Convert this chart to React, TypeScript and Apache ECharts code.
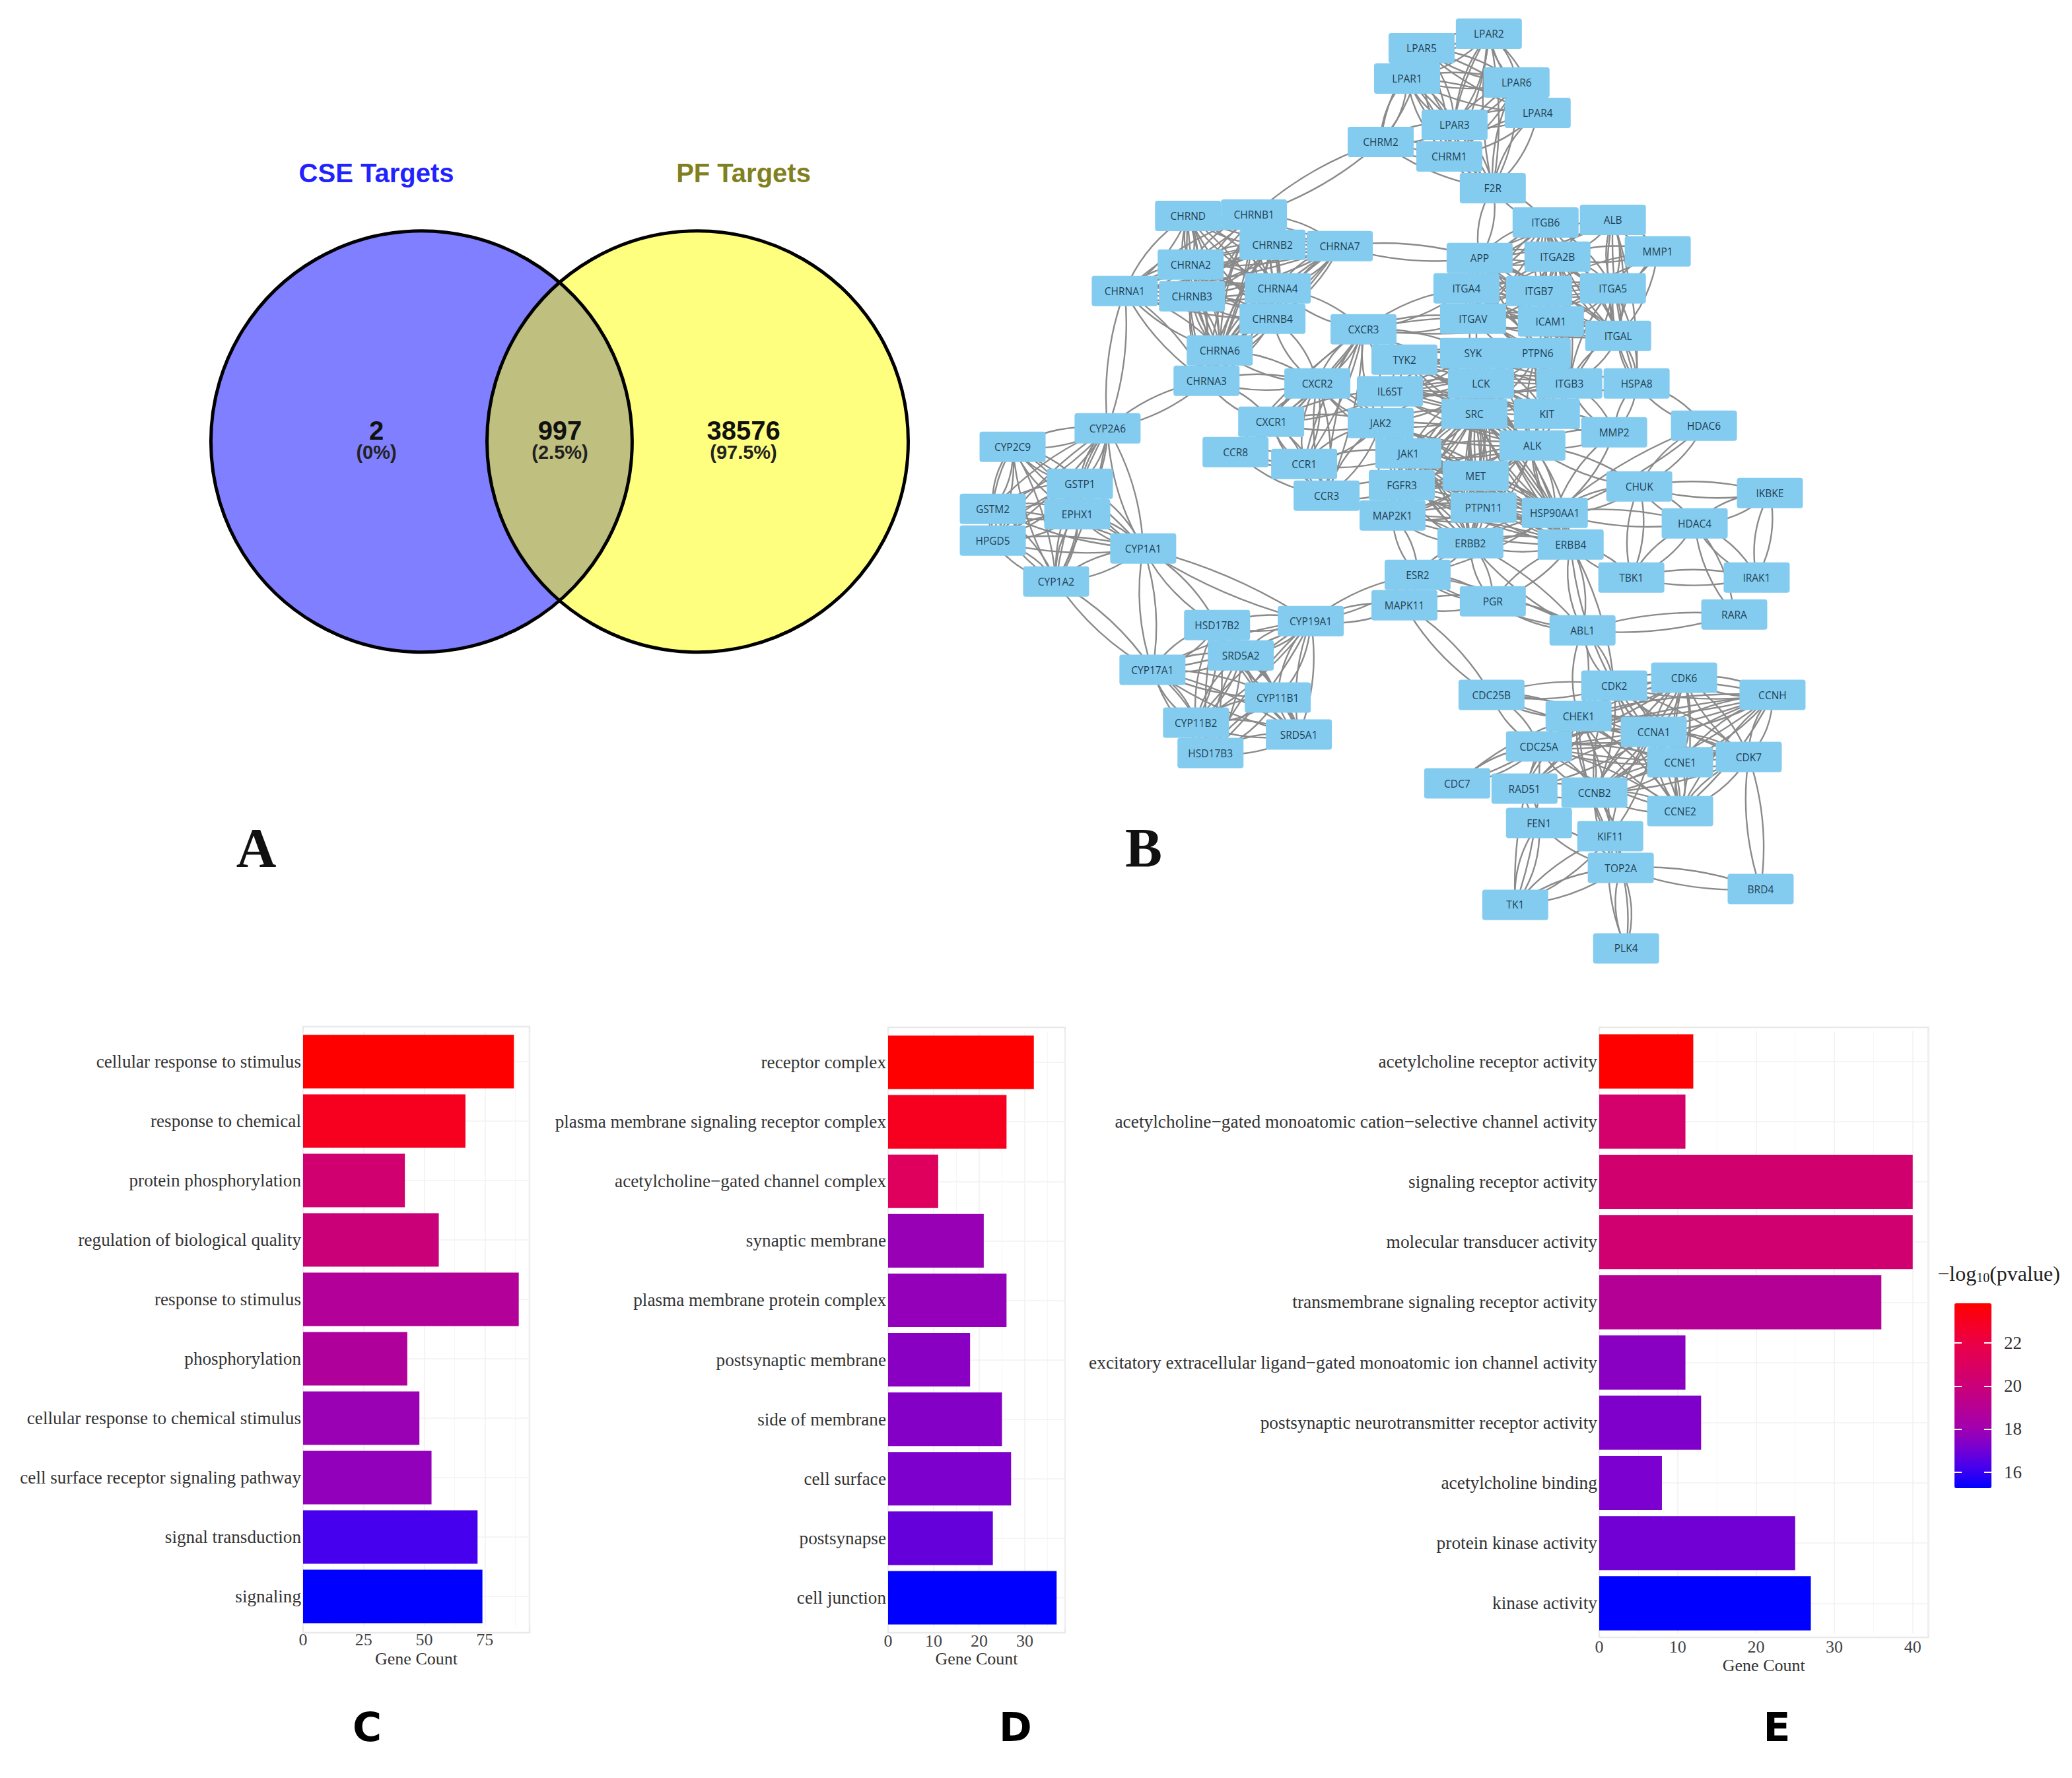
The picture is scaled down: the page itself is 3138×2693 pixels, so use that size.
import React, { useEffect, useRef } from "react";
import * as echarts from "echarts";

const WIDTH = 3138;
const HEIGHT = 2693;

// Venn
const vennTitles = ["CSE Targets", "PF Targets"];
const vennCounts = ["2", "997", "38576"];
const vennPercents = ["(0%)", "(2.5%)", "(97.5%)"];
const vennCircles = [[318, 334], [527.25, 334]];

// Network nodes: gene, x, y (half-scale picture units)
const geneNodes: [string, number, number][] = [
  ["LPAR5", 1076, 36], ["LPAR2", 1127, 25], ["LPAR1", 1065, 59], ["LPAR6", 1148, 62], ["LPAR4", 1164, 85],
  ["LPAR3", 1101, 94], ["CHRM2", 1045, 107], ["CHRM1", 1097, 118], ["F2R", 1130, 142], ["ITGB6", 1170, 168],
  ["ALB", 1221, 166], ["MMP1", 1255, 190], ["APP", 1120, 195], ["ITGA2B", 1179, 194], ["ITGA4", 1110, 218],
  ["ITGB7", 1165, 220], ["ITGA5", 1221, 218], ["ITGAV", 1115, 241], ["ICAM1", 1174, 243], ["ITGAL", 1225, 254],
  ["CXCR3", 1032, 249], ["TYK2", 1063, 272], ["SYK", 1115, 267], ["PTPN6", 1164, 267], ["CXCR2", 997, 290],
  ["IL6ST", 1052, 296], ["LCK", 1121, 290], ["ITGB3", 1188, 290], ["HSPA8", 1239, 290], ["SRC", 1116, 313],
  ["KIT", 1171, 313], ["MMP2", 1222, 327], ["HDAC6", 1290, 322], ["CXCR1", 962, 319], ["JAK2", 1045, 320],
  ["CCR8", 935, 342], ["CCR1", 987, 351], ["JAK1", 1066, 343], ["ALK", 1160, 337], ["MET", 1117, 360],
  ["CCR3", 1004, 375], ["FGFR3", 1061, 367], ["CHUK", 1241, 368], ["IKBKE", 1340, 373], ["MAP2K1", 1054, 390],
  ["PTPN11", 1123, 384], ["HSP90AA1", 1177, 388], ["HDAC4", 1283, 396], ["ERBB2", 1113, 411], ["ERBB4", 1189, 412],
  ["ESR2", 1073, 435], ["TBK1", 1235, 437], ["IRAK1", 1330, 437], ["MAPK11", 1063, 458], ["PGR", 1130, 455],
  ["RARA", 1313, 465], ["ABL1", 1198, 477], ["CHRND", 899, 163], ["CHRNB1", 949, 162], ["CHRNB2", 963, 185],
  ["CHRNA7", 1014, 186], ["CHRNA2", 901, 200], ["CHRNA1", 851, 220], ["CHRNB3", 902, 224], ["CHRNA4", 967, 218],
  ["CHRNB4", 963, 241], ["CHRNA6", 923, 265], ["CHRNA3", 913, 288], ["CYP2A6", 838, 324], ["CYP2C9", 766, 338],
  ["GSTP1", 817, 366], ["GSTM2", 751, 385], ["EPHX1", 815, 389], ["HPGD5", 751, 409], ["CYP1A1", 865, 415],
  ["CYP1A2", 799, 440], ["HSD17B2", 921, 473], ["CYP19A1", 992, 470], ["SRD5A2", 939, 496], ["CYP17A1", 872, 507],
  ["CYP11B1", 967, 528], ["CYP11B2", 905, 547], ["SRD5A1", 983, 556], ["HSD17B3", 916, 570], ["CDC25B", 1129, 526],
  ["CDK2", 1222, 519], ["CDK6", 1275, 513], ["CCNH", 1342, 526], ["CHEK1", 1195, 542], ["CCNA1", 1252, 554],
  ["CDC25A", 1165, 565], ["CCNE1", 1272, 577], ["CDK7", 1324, 573], ["CDC7", 1103, 593], ["RAD51", 1154, 597],
  ["CCNB2", 1207, 600], ["CCNE2", 1272, 614], ["FEN1", 1165, 623], ["KIF11", 1219, 633], ["TOP2A", 1227, 657],
  ["BRD4", 1333, 673], ["TK1", 1147, 685], ["PLK4", 1231, 718],
];

// Densely connected modules of the network
const geneModules: string[][] = [
  ["LPAR5", "LPAR2", "LPAR1", "LPAR6", "LPAR4", "LPAR3", "CHRM1"],
  ["CHRND", "CHRNB1", "CHRNB2", "CHRNA7", "CHRNA2", "CHRNA1", "CHRNB3", "CHRNA4", "CHRNB4", "CHRNA6", "CHRNA3"],
  ["APP", "ITGB6", "ITGA2B", "ITGA4", "ITGB7", "ITGA5", "ITGAV", "ICAM1", "ITGAL", "ITGB3"],
  ["SYK", "PTPN6", "LCK", "ITGB3", "SRC", "KIT", "ALK", "IL6ST", "TYK2"],
  ["JAK2", "JAK1", "MET", "FGFR3", "PTPN11", "HSP90AA1", "ERBB2", "ERBB4", "MAP2K1", "SRC", "LCK", "ALK"],
  ["CXCR3", "CXCR2", "CXCR1", "CCR8", "CCR1", "CCR3"],
  ["CYP2A6", "CYP2C9", "GSTP1", "GSTM2", "EPHX1", "HPGD5", "CYP1A1", "CYP1A2"],
  ["HSD17B2", "CYP19A1", "SRD5A2", "CYP17A1", "CYP11B1", "CYP11B2", "SRD5A1", "HSD17B3"],
  ["CDK2", "CDK6", "CCNH", "CHEK1", "CCNA1", "CDC25A", "CCNE1", "CDK7", "CCNB2", "CCNE2"],
];

// Links between modules
const geneLinks: [string, string][] = [
  ["LPAR1", "CHRM2"], ["LPAR3", "CHRM2"], ["LPAR5", "CHRM2"], ["CHRM2", "CHRM1"], ["CHRM2", "F2R"], ["CHRM1", "F2R"],
  ["F2R", "LPAR6"], ["F2R", "LPAR4"], ["F2R", "LPAR3"], ["F2R", "LPAR1"], ["F2R", "LPAR2"],
  ["CHRM2", "CHRNB1"], ["F2R", "APP"], ["F2R", "ITGB6"], ["CHRNA7", "APP"],
  ["CHRNB4", "CXCR2"], ["CHRNA4", "CXCR3"], ["CHRNA3", "CXCR2"], ["CHRNA6", "CXCR2"], ["CHRNA3", "CXCR1"],
  ["CHRNA3", "CYP2A6"], ["CHRNA1", "CYP2A6"],
  ["ALB", "MMP1"], ["ALB", "ITGA5"], ["ALB", "ITGA2B"], ["ALB", "ITGAL"], ["ALB", "APP"],
  ["MMP1", "ITGA5"], ["MMP1", "ITGAL"], ["MMP1", "ITGB7"], ["MMP1", "ITGA2B"],
  ["ICAM1", "PTPN6"], ["ITGAV", "SYK"], ["ITGA4", "PTPN6"], ["ITGAL", "HSPA8"], ["ITGA5", "HSPA8"], ["ALB", "HSPA8"],
  ["HSPA8", "HDAC6"], ["HSPA8", "ITGB3"], ["HSPA8", "MMP2"], ["HDAC6", "HSP90AA1"], ["HDAC6", "CHUK"],
  ["MMP2", "KIT"], ["MMP2", "ITGB3"], ["MMP2", "HSP90AA1"], ["MMP2", "ALK"],
  ["CXCR2", "JAK2"], ["CXCR1", "JAK2"], ["CXCR2", "JAK1"], ["CXCR3", "JAK2"], ["CXCR3", "TYK2"], ["CCR1", "JAK2"],
  ["CCR3", "JAK2"], ["CCR3", "FGFR3"], ["CCR1", "JAK1"], ["CXCR1", "IL6ST"], ["CXCR3", "ITGA4"], ["CXCR3", "ITGAV"],
  ["CXCR3", "ICAM1"], ["CXCR3", "SYK"],
  ["CHUK", "IKBKE"], ["CHUK", "HDAC4"], ["CHUK", "TBK1"], ["CHUK", "HSP90AA1"], ["IKBKE", "HDAC4"], ["IKBKE", "IRAK1"],
  ["HDAC4", "TBK1"], ["HDAC4", "IRAK1"], ["HDAC4", "HSP90AA1"], ["HDAC4", "RARA"], ["TBK1", "IRAK1"], ["TBK1", "ERBB4"],
  ["CHUK", "ALK"], ["ABL1", "RARA"], ["ERBB4", "ABL1"], ["ERBB2", "ABL1"], ["PGR", "ABL1"], ["ESR2", "ABL1"],
  ["ESR2", "ERBB2"], ["ESR2", "MAP2K1"], ["ESR2", "HSP90AA1"], ["ESR2", "PGR"], ["ESR2", "MAPK11"], ["MAPK11", "PGR"],
  ["PGR", "ERBB2"], ["PGR", "ERBB4"], ["ABL1", "CDK2"], ["ABL1", "CHEK1"], ["ERBB4", "CDK2"], ["MAPK11", "CDC25B"],
  ["ESR2", "CYP19A1"], ["MAPK11", "CYP19A1"], ["CYP1A1", "CYP19A1"], ["CYP1A1", "HSD17B2"], ["CYP1A1", "CYP17A1"], ["CYP1A2", "CYP17A1"],
  ["CDC25B", "CDK2"], ["CDC25B", "CHEK1"], ["CDC25B", "CDC25A"], ["CDC25B", "CCNA1"], ["CDC7", "CDC25A"], ["CDC7", "CHEK1"],
  ["RAD51", "CDK2"], ["RAD51", "CCNB2"], ["RAD51", "CHEK1"], ["RAD51", "CCNA1"], ["RAD51", "FEN1"],
  ["CCNB2", "KIF11"], ["CCNB2", "TOP2A"], ["CCNA1", "KIF11"], ["CHEK1", "KIF11"], ["CDC25A", "TK1"],
  ["FEN1", "TK1"], ["FEN1", "TOP2A"], ["KIF11", "TOP2A"], ["KIF11", "TK1"], ["KIF11", "PLK4"], ["TOP2A", "TK1"],
  ["TOP2A", "PLK4"], ["TOP2A", "BRD4"], ["CDK7", "BRD4"],
];

// Panel C
const bpCategories = [
  "cellular response to stimulus", "response to chemical", "protein phosphorylation", "regulation of biological quality",
  "response to stimulus", "phosphorylation", "cellular response to chemical stimulus", "cell surface receptor signaling pathway",
  "signal transduction", "signaling",
];
const bpCounts = [87, 67, 42, 56, 89, 43, 48, 53, 72, 74];
const bpLogP = [23.85, 23.0, 20.3, 20.0, 18.8, 18.7, 17.9, 17.7, 16.2, 15.25];

// Panel D
const ccCategories = [
  "receptor complex", "plasma membrane signaling receptor complex", "acetylcholine\u2212gated channel complex", "synaptic membrane",
  "plasma membrane protein complex", "postsynaptic membrane", "side of membrane", "cell surface", "postsynapse", "cell junction",
];
const ccCounts = [32, 26, 11, 21, 26, 18, 25, 27, 23, 37];
const ccLogP = [23.85, 23.0, 21.15, 17.85, 17.75, 17.5, 17.4, 17.25, 16.8, 15.25];

// Panel E
const mfCategories = [
  "acetylcholine receptor activity", "acetylcholine\u2212gated monoatomic cation\u2212selective channel activity", "signaling receptor activity",
  "molecular transducer activity", "transmembrane signaling receptor activity", "excitatory extracellular ligand\u2212gated monoatomic ion channel activity",
  "postsynaptic neurotransmitter receptor activity", "acetylcholine binding", "protein kinase activity", "kinase activity",
];
const mfCounts = [12, 11, 40, 40, 36, 11, 13, 8, 25, 27];
const mfLogP = [23.85, 20.55, 20.4, 20.3, 18.95, 17.5, 17.3, 17.2, 17.0, 15.25];

const colorStops = ["#0000FF", "#4600EE", "#7A00D0", "#A400AC", "#B80092", "#CB0078", "#DB0060", "#EA0048", "#F60024", "#FF0000"];
const SERIF = "'Liberation Serif', serif";
const SANS = "'Liberation Sans', sans-serif";
const NODE_FONT = "'Open Sans', sans-serif";

function buildLinks() {
  const pos = new Map(geneNodes.map(([n, x, y]) => [n, [x, y]]));
  const seen = new Set<string>();
  const out: any[] = [];
  const add = (a: string, b: string) => {
    const k = a < b ? a + "|" + b : b + "|" + a;
    if (seen.has(k)) return;
    seen.add(k);
    const pa = pos.get(a)!;
    const pb = pos.get(b)!;
    const len = Math.hypot(pa[0] - pb[0], pa[1] - pb[1]) * 2;
    const c = Math.min(0.2, 24 / Math.max(len, 1));
    out.push({ source: a, target: b, lineStyle: { curveness: c } });
    out.push({ source: a, target: b, lineStyle: { curveness: -c } });
  };
  geneModules.forEach((m) => {
    for (let i = 0; i < m.length; i++) for (let j = i + 1; j < m.length; j++) add(m[i], m[j]);
  });
  geneLinks.forEach(([a, b]) => add(a, b));
  return out;
}

function barAxisX(gridIndex: number, max: number, interval: number, nameGap: number) {
  return {
    type: "value", gridIndex, min: 0, max, interval,
    name: "Gene Count", nameLocation: "middle", nameGap, nameMoveOverlap: false,
    nameTextStyle: { fontFamily: SERIF, fontSize: 26, color: "#333", verticalAlign: "middle" },
    axisLine: { show: false }, axisTick: { show: false },
    axisLabel: { show: true, fontFamily: SERIF, fontSize: 26, color: "#444", margin: 7, showMaxLabel: false },
    splitLine: { show: true, lineStyle: { color: "#f0f0f0", width: 1.5 } },
    minorTick: { show: false, splitNumber: 2 },
    minorSplitLine: { show: true, lineStyle: { color: "#f6f6f6", width: 1 } },
  };
}

function barAxisY(gridIndex: number, data: string[], fontSize: number) {
  return {
    type: "category", gridIndex, inverse: true, data,
    axisLine: { show: false }, axisTick: { show: false },
    axisLabel: { show: true, fontFamily: SERIF, fontSize, color: "#333", margin: 3, interval: 0 },
    splitLine: { show: false },
  };
}

function barSeries(axisIndex: number, cats: string[], counts: number[], logp: number[]) {
  return {
    type: "bar", xAxisIndex: axisIndex, yAxisIndex: axisIndex, barWidth: "90%", z: 3,
    encode: { x: 0, y: 1 },
    data: cats.map((c, i) => [counts[i], c, logp[i]]),
    markLine: {
      silent: true, symbol: "none", z: 1, label: { show: false },
      lineStyle: { color: "#f2f2f2", width: 1.5, type: "solid" },
      data: cats.map((c) => ({ yAxis: c })),
    },
  };
}

function text(x: number, y: number, s: string, fontSize: number, fontFamily: string, fill: string, fontWeight: any = "normal") {
  return { type: "text", silent: true, x, y, z: 20, style: { text: s, x: 0, y: 0, fontSize, fontFamily, fill, fontWeight, align: "center", verticalAlign: "middle" } };
}

function panel(x0: number, y0: number, x1: number, y1: number) {
  return { type: "rect", silent: true, z: -1, shape: { x: x0, y: y0, width: x1 - x0, height: y1 - y0 }, style: { fill: "none", stroke: "#e9e9e9", lineWidth: 2.5 } };
}

function buildOption() {
  const canvasX = { type: "value", gridIndex: 0, min: 0, max: WIDTH / 2, show: false };
  const canvasY = { type: "value", gridIndex: 0, min: 0, max: HEIGHT / 2, inverse: true, show: false };
  const nodeSymbol = "path://M4,0H96Q100,0 100,4V42Q100,46 96,46H4Q0,46 0,42V4Q0,0 4,0Z";

  const series: any[] = [
    barSeries(1, bpCategories, bpCounts, bpLogP),
    barSeries(2, ccCategories, ccCounts, ccLogP),
    barSeries(3, mfCategories, mfCounts, mfLogP),
    {
      type: "scatter", xAxisIndex: 0, yAxisIndex: 0, symbol: "circle", symbolSize: 638, silent: true, clip: false, z: 2,
      data: [vennCircles[0]], itemStyle: { color: "rgba(0,0,255,0.5)", opacity: 1 },
    },
    {
      type: "scatter", xAxisIndex: 0, yAxisIndex: 0, symbol: "circle", symbolSize: 638, silent: true, clip: false, z: 3,
      data: [vennCircles[1]], itemStyle: { color: "rgba(255,255,0,0.5)", opacity: 1 },
    },
    {
      type: "scatter", xAxisIndex: 0, yAxisIndex: 0, symbol: "circle", symbolSize: 638, silent: true, clip: false, z: 4,
      data: vennCircles, itemStyle: { color: "rgba(0,0,0,0)", borderColor: "#000", borderWidth: 5, opacity: 1 },
    },
    {
      type: "graph", coordinateSystem: "cartesian2d", xAxisIndex: 0, yAxisIndex: 0, layout: "none", silent: true, z: 5,
      roam: false, symbol: nodeSymbol, symbolSize: [100, 46], edgeSymbol: ["none", "none"],
      data: geneNodes.map(([name, x, y]) => ({ name, value: [x, y] })),
      links: buildLinks(),
      itemStyle: { color: "#84CCEF", opacity: 1 },
      lineStyle: { color: "#8a8a8a", width: 2.4, opacity: 1 },
      label: { show: true, position: "inside", formatter: "{b}", fontFamily: NODE_FONT, fontSize: 15.5, color: "#1f3f54" },
    },
  ];

  const vennX = [570, 848, 1126];
  const graphic: any[] = [
    panel(459, 1555, 802, 2473),
    panel(1345, 1556, 1613, 2473),
    panel(2422, 1556, 2920.5, 2480),
    text(570, 262, vennTitles[0], 40, SANS, "#2222FF", "bold"),
    text(1126, 262, vennTitles[1], 40, SANS, "#808020", "bold"),
    ...vennCounts.map((c, i) => text(vennX[i], 652, c, 40, SANS, "#111", "bold")),
    ...vennPercents.map((c, i) => text(vennX[i], 685, c, 29, SANS, "#222", "bold")),
    text(388, 1284, "A", 84, SERIF, "#111", "bold"),
    text(1732, 1284, "B", 84, SERIF, "#111", "bold"),
    text(556, 2616, "C", 60, "'DejaVu Sans', sans-serif", "#000", "bold"),
    text(1538, 2616, "D", 60, "'DejaVu Sans', sans-serif", "#000", "bold"),
    text(2691, 2616, "E", 60, "'DejaVu Sans', sans-serif", "#000", "bold"),
    {
      type: "text", silent: true, x: 3027, y: 1929, z: 20,
      style: {
        text: "{a|\u2212log}{b|10}{a|(pvalue)}", align: "center", verticalAlign: "middle",
        rich: {
          a: { fontFamily: SERIF, fontSize: 32, fill: "#222", color: "#222" },
          b: { fontFamily: SERIF, fontSize: 20, fill: "#222", color: "#222", verticalAlign: "bottom", padding: [10, 0, 0, 0] },
        },
      },
    },
  ];

  return {
    animation: false,
    backgroundColor: "#fff",
    tooltip: { show: false },
    grid: [
      { left: 3, top: 1, width: WIDTH, height: HEIGHT },
      { left: 459, top: 1563, width: 343, height: 900 },
      { left: 1345, top: 1564, width: 268, height: 901 },
      { left: 2422, top: 1562, width: 498.5, height: 912 },
      { left: 2960, top: 1969, width: 56, height: 325.8 },
    ],
    xAxis: [
      canvasX,
      barAxisX(1, 93.45, 25, 49),
      barAxisX(2, 38.85, 10, 47),
      barAxisX(3, 42, 10, 48),
      { type: "value", gridIndex: 4, show: false, min: 0, max: 1 },
    ],
    yAxis: [
      canvasY,
      barAxisY(1, bpCategories, 27.2),
      barAxisY(2, ccCategories, 27.2),
      barAxisY(3, mfCategories, 27.4),
      {
        type: "value", gridIndex: 4, position: "left", min: 14, max: 24, interval: 2, z: 10,
        axisLine: { show: false }, splitLine: { show: false }, axisLabel: { show: false },
        axisTick: { show: true, inside: true, length: 11, lineStyle: { color: "#fff", width: 2 } },
      },
      {
        type: "value", gridIndex: 4, position: "right", min: 14, max: 24, interval: 2, z: 10,
        axisLine: { show: false }, splitLine: { show: false },
        axisLabel: { show: true, inside: false, margin: 19, fontFamily: SERIF, fontSize: 27, color: "#333", showMinLabel: false, showMaxLabel: false },
        axisTick: { show: true, inside: true, length: 11, lineStyle: { color: "#fff", width: 2 } },
      },
    ],
    visualMap: [
      {
        type: "continuous", min: 15.25, max: 23.85, dimension: 2, seriesIndex: [0, 1, 2],
        calculable: false, hoverLink: false, left: 2960, top: 1974, itemWidth: 56, itemHeight: 280, padding: 0,
        orient: "vertical", inRange: { color: colorStops }, textStyle: { fontSize: 0 }, text: [],
      },
    ],
    series,
    graphic: { elements: graphic },
  };
}

export default function App() {
  const ref = useRef<HTMLDivElement>(null);
  useEffect(() => {
    document.body.style.margin = "0";
    document.body.style.overflow = "hidden";
    if (!ref.current) return;
    const chart = echarts.init(ref.current, undefined, { renderer: "svg", width: WIDTH, height: HEIGHT });
    chart.setOption(buildOption() as any);
    return () => chart.dispose();
  }, []);
  return <div ref={ref} style={{ width: WIDTH, height: HEIGHT }} />;
}
